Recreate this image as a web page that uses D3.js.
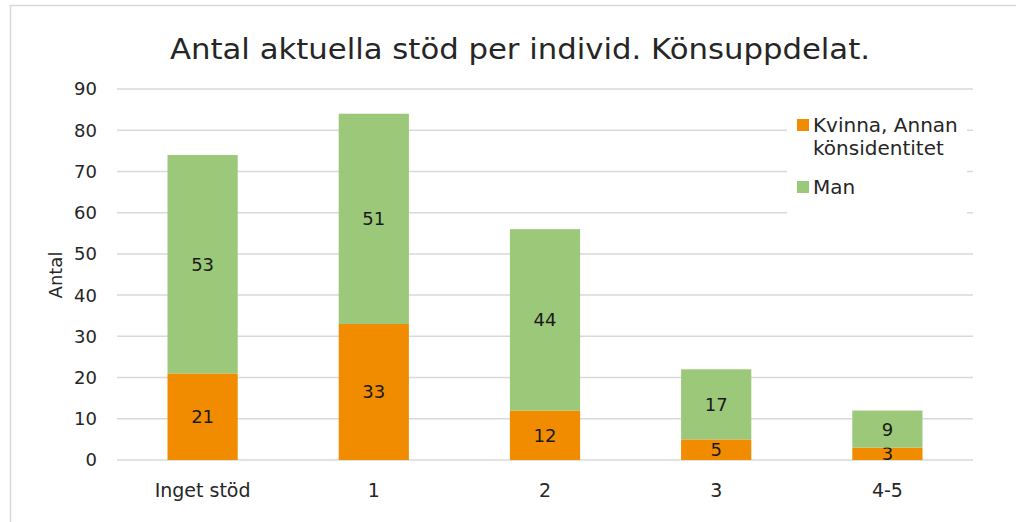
<!DOCTYPE html>
<html>
<head>
<meta charset="utf-8">
<script src="https://cdn.jsdelivr.net/npm/d3@7"></script>
<style>
  body { margin: 0; background: #fff; }
  svg { display: block; font-family: "DejaVu Sans", sans-serif; }
</style>
</head>
<body>
<svg id="chart"></svg>
<script>
const categories = ["Inget stöd", "1", "2", "3", "4-5"];
const women = [21, 33, 12, 5, 3];
const men = [53, 51, 44, 17, 9];
const seriesNames = ["Kvinna, Annan könsidentitet", "Man"];
const yTicks = [0, 10, 20, 30, 40, 50, 60, 70, 80, 90];

const width = 1016;
const height = 522;
const colors = ["#f18c00", "#9bc879"];

const svg = d3.select("#chart")
    .attr("width", width)
    .attr("height", height);

// chart frame
svg.append("rect")
    .attr("x", 10.5).attr("y", 5.5)
    .attr("width", 1020).attr("height", 530)
    .attr("fill", "none")
    .attr("stroke", "#d9d9d9")
    .attr("stroke-width", 1.5);

const x = d3.scaleBand()
    .domain(categories)
    .range([117, 973])
    .paddingInner(0.59)
    .paddingOuter(0.295);

const y = d3.scaleLinear()
    .domain([0, 90])
    .range([460, 89]);

// gridlines
svg.append("g")
    .selectAll("line")
    .data(yTicks)
    .enter()
    .append("line")
    .attr("x1", 117).attr("x2", 973)
    .attr("y1", d => y(d)).attr("y2", d => y(d))
    .attr("stroke", "#d9d9d9")
    .attr("stroke-width", 1.5);

// y tick labels
svg.append("g")
    .selectAll("text")
    .data(yTicks)
    .enter()
    .append("text")
    .attr("x", 97)
    .attr("y", d => y(d))
    .attr("dy", "0.36em")
    .attr("text-anchor", "end")
    .attr("font-size", 18)
    .attr("fill", "#262626")
    .text(d => d);

// y axis title
svg.append("text")
    .attr("transform", "translate(62,275) rotate(-90)")
    .attr("text-anchor", "middle")
    .attr("font-size", 18)
    .attr("fill", "#262626")
    .text("Antal");

// stacked bars
const rows = categories.map((c, i) => ({ cat: c, w: women[i], m: men[i] }));
const stacked = d3.stack().keys(["w", "m"])(rows);

const layer = svg.append("g")
    .selectAll("g")
    .data(stacked)
    .enter()
    .append("g")
    .attr("fill", (d, i) => colors[i]);

layer.selectAll("rect")
    .data(d => d)
    .enter()
    .append("rect")
    .attr("x", d => x(d.data.cat))
    .attr("width", x.bandwidth())
    .attr("y", d => y(d[1]))
    .attr("height", d => y(d[0]) - y(d[1]));

layer.selectAll("text")
    .data(d => d)
    .enter()
    .append("text")
    .attr("x", d => x(d.data.cat) + x.bandwidth() / 2)
    .attr("y", d => y((d[0] + d[1]) / 2))
    .attr("dy", "0.36em")
    .attr("text-anchor", "middle")
    .attr("font-size", 18)
    .attr("fill", "#1a1a1a")
    .text(d => d[1] - d[0]);

// category labels
svg.append("g")
    .selectAll("text")
    .data(categories)
    .enter()
    .append("text")
    .attr("x", d => x(d) + x.bandwidth() / 2)
    .attr("y", 497)
    .attr("text-anchor", "middle")
    .attr("font-size", 19)
    .attr("fill", "#262626")
    .text(d => d);

// title
svg.append("text")
    .attr("x", 520)
    .attr("y", 59)
    .attr("text-anchor", "middle")
    .attr("font-size", 28)
    .attr("textLength", 700)
    .attr("lengthAdjust", "spacingAndGlyphs")
    .attr("fill", "#262626")
    .text("Antal aktuella stöd per individ. Könsuppdelat.");

// legend
const legend = svg.append("g");
legend.append("rect")
    .attr("x", 787).attr("y", 105)
    .attr("width", 180).attr("height", 112)
    .attr("fill", "#fff");

const legendRows = [
    { lines: ["Kvinna, Annan", "könsidentitet"], y: 125 },
    { lines: ["Man"], y: 187 }
];

const item = legend.selectAll("g")
    .data(legendRows)
    .enter()
    .append("g");

item.append("rect")
    .attr("x", 797)
    .attr("y", d => d.y - 6)
    .attr("width", 12).attr("height", 12)
    .attr("fill", (d, i) => colors[i]);

item.append("text")
    .attr("font-size", 20)
    .attr("fill", "#262626")
    .selectAll("tspan")
    .data(d => d.lines.map((l, j) => ({ l, y: d.y + j * 23 })))
    .enter()
    .append("tspan")
    .attr("x", 813)
    .attr("y", d => d.y)
    .attr("dy", "0.36em")
    .text(d => d.l);
</script>
</body>
</html>
